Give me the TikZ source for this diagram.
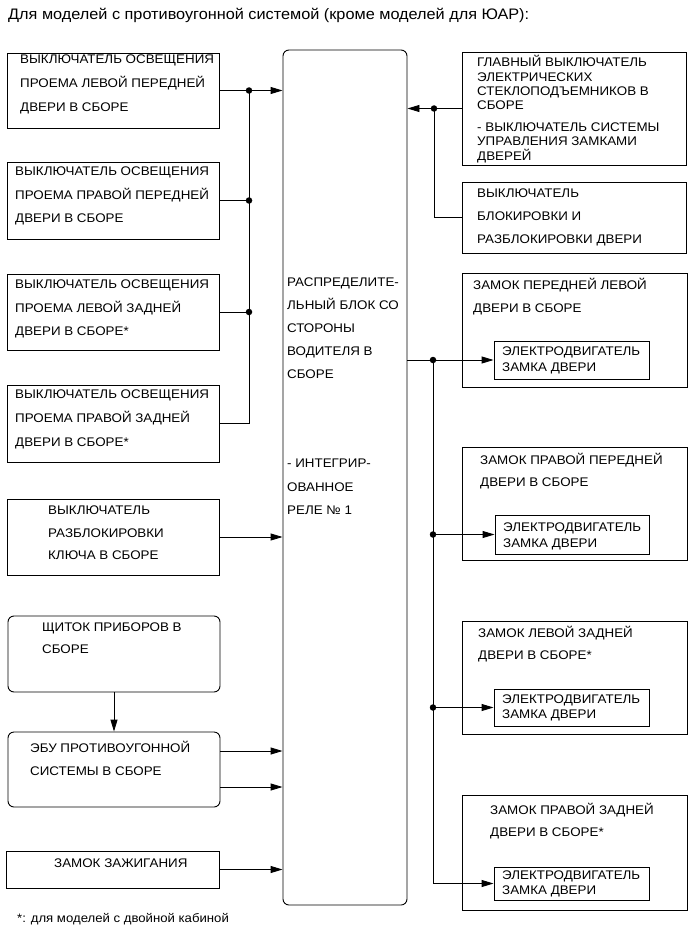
\documentclass[tikz,border=0pt]{standalone}
\usepackage{fontspec}
\setmainfont{Liberation Sans}[FakeStretch=1.07]
\usetikzlibrary{arrows.meta}
\tikzset{
  box/.style={draw=black, line width=0.9pt, inner sep=0pt},
  rbox/.style={box, rounded corners=6pt},
  txt/.style={anchor=base west, inner sep=0pt, font=\fontsize{12.5}{14}\selectfont},
  title/.style={anchor=base west, inner sep=0pt, font=\fontsize{15.2}{17}\selectfont},
  fnote/.style={anchor=base west, inner sep=0pt, font=\fontsize{12.3}{14}\selectfont},
  wire/.style={line width=0.9pt},
  arr/.style={wire, -{Triangle[length=12pt,width=7pt]}},
  jdot/.style={circle, fill=black, inner sep=0pt, minimum size=6.5pt},
}
\newcommand\mkbox[6][box]{\node[#1, minimum width={#5-#3}, minimum height={#6-#4}] (#2) at ({(#3+#5)/2},{(#4+#6)/2}) {};}
\newcommand\txtlines[5]{\foreach \l [count=\i] in {#5}{\node[txt] (#1-\i) at (#2,{#3+(\i-1)*(#4)}) {\l};}}
\begin{document}
\begin{tikzpicture}[x=1pt,y=-1pt]
\useasboundingbox (0,0) rectangle (691,952);
% title
\node[title] (ttl) at (8,20) {Для моделей с противоугонной системой (кроме моделей для ЮАР):};
% left boxes
\mkbox{L1}{7}{53}{219}{128}
\mkbox{L2}{7}{162}{219}{239}
\mkbox{L3}{7}{274}{219}{350}
\mkbox{L4}{7}{385}{219}{462}
\mkbox{L5}{7}{499}{219}{575}
\mkbox[rbox]{L6}{8}{616}{220}{692}
\mkbox[rbox]{L7}{8}{732}{220}{807}
\mkbox{L8}{6}{851}{219}{888}
% centre block
\mkbox[rbox]{C}{283}{50}{407}{905}
% right boxes
\mkbox{R1}{462}{52}{686}{165}
\mkbox{R2}{462}{182}{686}{253}
\mkbox{D1}{462}{273}{687}{387}
\mkbox{M1}{494}{341}{649}{379}
\mkbox{D2}{462}{447}{687}{560}
\mkbox{M2}{495}{515}{649}{554}
\mkbox{D3}{462}{621}{687}{734}
\mkbox{M3}{494}{689}{649}{726}
\mkbox{D4}{462}{795}{687}{910}
\mkbox{M4}{494}{867}{649}{900}
% texts
\txtlines{tL1}{20}{63.5}{24}{ВЫКЛЮЧАТЕЛЬ ОСВЕЩЕНИЯ,ПРОЕМА ЛЕВОЙ ПЕРЕДНЕЙ,ДВЕРИ В СБОРЕ}
\txtlines{tL2}{15}{175.5}{23.5}{ВЫКЛЮЧАТЕЛЬ ОСВЕЩЕНИЯ,ПРОЕМА ПРАВОЙ ПЕРЕДНЕЙ,ДВЕРИ В СБОРЕ}
\txtlines{tL3}{15}{288.5}{23.5}{ВЫКЛЮЧАТЕЛЬ ОСВЕЩЕНИЯ,ПРОЕМА ЛЕВОЙ ЗАДНЕЙ,ДВЕРИ В СБОРЕ*}
\txtlines{tL4}{15}{398.5}{24}{ВЫКЛЮЧАТЕЛЬ ОСВЕЩЕНИЯ,ПРОЕМА ПРАВОЙ ЗАДНЕЙ,ДВЕРИ В СБОРЕ*}
\txtlines{tL5}{48}{514.5}{22.5}{ВЫКЛЮЧАТЕЛЬ,РАЗБЛОКИРОВКИ,КЛЮЧА В СБОРЕ}
\txtlines{tL6}{42}{631.5}{21.5}{ЩИТОК ПРИБОРОВ В,СБОРЕ}
\txtlines{tL7}{30}{752.5}{23}{ЭБУ ПРОТИВОУГОННОЙ,СИСТЕМЫ В СБОРЕ}
\txtlines{tL8}{54}{867.5}{0}{ЗАМОК ЗАЖИГАНИЯ}
\txtlines{tC}{287}{286.5}{23}{РАСПРЕДЕЛИТЕ-,ЛЬНЫЙ БЛОК СО,СТОРОНЫ,ВОДИТЕЛЯ В,СБОРЕ}
\txtlines{tCb}{287}{467.5}{23.5}{- ИНТЕГРИР-,ОВАННОЕ,РЕЛЕ № 1}
\txtlines{tR1}{477}{67}{14.3}{ГЛАВНЫЙ ВЫКЛЮЧАТЕЛЬ,ЭЛЕКТРИЧЕСКИХ,СТЕКЛОПОДЪЕМНИКОВ В,СБОРЕ}
\txtlines{tR1b}{477}{131.5}{14.3}{- ВЫКЛЮЧАТЕЛЬ СИСТЕМЫ,УПРАВЛЕНИЯ ЗАМКАМИ,ДВЕРЕЙ}
\txtlines{tR2}{477}{197.5}{23}{ВЫКЛЮЧАТЕЛЬ,БЛОКИРОВКИ И,РАЗБЛОКИРОВКИ ДВЕРИ}
\txtlines{tD1}{473}{289.5}{23}{ЗАМОК ПЕРЕДНЕЙ ЛЕВОЙ,ДВЕРИ В СБОРЕ}
\txtlines{tM1}{502}{355.5}{16}{ЭЛЕКТРОДВИГАТЕЛЬ,ЗАМКА ДВЕРИ}
\txtlines{tD2}{480}{464.5}{22}{ЗАМОК ПРАВОЙ ПЕРЕДНЕЙ,ДВЕРИ В СБОРЕ}
\txtlines{tM2}{503}{531.5}{16}{ЭЛЕКТРОДВИГАТЕЛЬ,ЗАМКА ДВЕРИ}
\txtlines{tD3}{478}{637.5}{22}{ЗАМОК ЛЕВОЙ ЗАДНЕЙ,ДВЕРИ В СБОРЕ*}
\txtlines{tM3}{502}{703.5}{14.5}{ЭЛЕКТРОДВИГАТЕЛЬ,ЗАМКА ДВЕРИ}
\txtlines{tD4}{490}{814.5}{22}{ЗАМОК ПРАВОЙ ЗАДНЕЙ,ДВЕРИ В СБОРЕ*}
\txtlines{tM4}{502}{879.5}{15}{ЭЛЕКТРОДВИГАТЕЛЬ,ЗАМКА ДВЕРИ}
\node[fnote] (fn) at (17,922) {*: для моделей с двойной кабиной};
% junctions
\coordinate (j1) at (249,90.5);
\coordinate (j2) at (249,200.5);
\coordinate (j3) at (249,312);
\coordinate (j4) at (249,423.5);
\coordinate (k1) at (434,108.5);
\coordinate (k2) at (434,217.5);
\coordinate (m1) at (433,360);
\coordinate (m2) at (433,534.5);
\coordinate (m3) at (433,707.5);
\coordinate (m4) at (433,883.5);
% left connectors
\draw[arr] (L1.east) -- (L1.east -| C.west);
\draw[wire] (L2.east) -- (j2);
\draw[wire] (L3.east) -- (j3);
\draw[wire] (L4.east) -- (j4) -- (j1);
\draw[arr] (L5.east) -- (L5.east -| C.west);
\draw[arr] (L6.south) -- (L7.north);
\draw[arr] (L7.east |- 0,751) -- (C.west |- 0,751);
\draw[arr] (L7.east |- 0,787) -- (C.west |- 0,787);
\draw[arr] (L8.east) -- (L8.east -| C.west);
% right inputs
\draw[arr] (R1.west) -- (R1.west -| C.east);
\draw[wire] (R2.west |- k2) -- (k2) -- (k1);
% outputs to locks
\draw[wire] (C.east |- m1) -- (m1);
\draw[arr] (m1) -- (M1.west);
\draw[arr] (m2) -- (M2.west);
\draw[arr] (m3) -- (M3.west);
\draw[wire] (m1) -- (m4);
\draw[arr] (m4) -- (M4.west);
% dots
\foreach \p in {j1,j2,j3,k1,m1,m2,m3} \node[jdot] (dot-\p) at (\p) {};
\end{tikzpicture}
\end{document}
